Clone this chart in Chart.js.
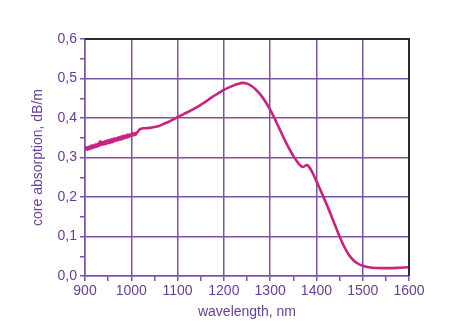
<!DOCTYPE html>
<html>
<head>
<meta charset="utf-8">
<script src="https://cdn.jsdelivr.net/npm/chart.js@4.4.1/dist/chart.umd.min.js"></script>
<style>
  html, body { margin: 0; padding: 0; background: #fff; }
  canvas { display: block; }
</style>
</head>
<body>
<canvas id="absorption-chart" width="476" height="331"></canvas>
<script>
// --- DATA ---
// measured spectrum; the short-wavelength end is noisy, so it is sampled finer
const wavelengths = [
  900, 902.5, 905, 907.5, 910, 912.5, 915, 917.5, 920, 922.5, 925, 927.5,
  930, 932.5, 935, 937.5, 940, 942.5, 945, 947.5, 950, 952.5, 955, 957.5,
  960, 962.5, 965, 967.5, 970, 972.5, 975, 977.5, 980, 982.5, 985, 987.5,
  990, 992.5, 995, 997.5, 1000, 1002.5, 1005, 1007.5, 1010, 1012.5, 1015, 1017.5,
  1020, 1025, 1030,
  1040, 1050, 1060, 1070, 1080, 1090, 1100, 1110, 1120, 1130, 1140, 1150,
  1160, 1170, 1180, 1190, 1200, 1210, 1220, 1230, 1240, 1250, 1260, 1270,
  1280, 1290, 1300, 1310, 1320, 1330, 1340, 1350, 1360, 1370, 1380, 1390,
  1400, 1410, 1420, 1430, 1440, 1450, 1460, 1470, 1480, 1490, 1500, 1510,
  1520, 1540, 1560, 1580, 1600
];
const absorption = [
  0.318, 0.326, 0.320, 0.327, 0.321, 0.330, 0.323, 0.331, 0.325, 0.333, 0.327, 0.335,
  0.329, 0.341, 0.332, 0.339, 0.333, 0.341, 0.334, 0.343, 0.336, 0.345, 0.337, 0.346,
  0.339, 0.348, 0.341, 0.349, 0.343, 0.351, 0.345, 0.353, 0.346, 0.355, 0.348, 0.356,
  0.350, 0.358, 0.352, 0.359, 0.354, 0.361, 0.356, 0.362, 0.358, 0.364, 0.366, 0.371,
  0.372, 0.374, 0.374,
  0.375, 0.377, 0.380, 0.385, 0.390, 0.396, 0.402, 0.408, 0.414, 0.420, 0.426, 0.433,
  0.441, 0.449, 0.457, 0.464, 0.471, 0.477, 0.482, 0.486, 0.489, 0.487, 0.481, 0.471,
  0.458, 0.441, 0.421, 0.398, 0.373, 0.348, 0.325, 0.304, 0.287, 0.276, 0.281, 0.265,
  0.240, 0.214, 0.187, 0.159, 0.129, 0.100, 0.074, 0.054, 0.040, 0.031, 0.026, 0.023,
  0.021, 0.020, 0.020, 0.021, 0.022
];
const xTickLabels = ['900', '1000', '1100', '1200', '1300', '1400', '1500', '1600'];
const yTickLabels = ['0,0', '0,1', '0,2', '0,3', '0,4', '0,5', '0,6'];

// --- STYLE ---
const LINE_COLOR = '#c8237f';
const GRID_COLOR = '#7d52a3';
const TEXT_COLOR = '#6a3d98';
const FONT = { family: "'Liberation Sans', Arial, sans-serif", size: 14 };

// black frame on the top and right side of the plot
const framePlugin = {
  id: 'frame',
  afterDraw(chart) {
    const { ctx, chartArea: a } = chart;
    ctx.save();
    ctx.strokeStyle = '#2b2b2b';
    ctx.lineWidth = 2;
    ctx.beginPath();
    ctx.moveTo(a.left, a.top);
    ctx.lineTo(a.right, a.top);
    ctx.lineTo(a.right, a.bottom);
    ctx.stroke();
    ctx.restore();
  }
};

const isMajorX = v => Math.round(v) % 100 === 0;
const isMajorY = v => Math.round(v * 100) % 10 === 0;

new Chart(document.getElementById('absorption-chart'), {
  type: 'line',
  data: {
    datasets: [{
      data: wavelengths.map((w, i) => ({ x: w, y: absorption[i] })),
      borderColor: LINE_COLOR,
      borderWidth: 2.6,
      pointRadius: 0,
      fill: false,
      tension: 0.3
    }]
  },
  options: {
    responsive: false,
    animation: false,
    layout: { padding: { top: 39, right: 67, bottom: 0, left: 0 } },
    plugins: { legend: { display: false }, tooltip: { enabled: false } },
    scales: {
      x: {
        type: 'linear',
        min: 900,
        max: 1600,
        afterFit: s => { s.height = 55; },
        ticks: {
          stepSize: 50,
          autoSkip: false,
          maxRotation: 0,
          padding: 2,
          color: TEXT_COLOR,
          font: FONT,
          callback: v => isMajorX(v) ? xTickLabels[(Math.round(v) - 900) / 100] : ''
        },
        grid: {
          color: c => isMajorX(c.tick.value) ? GRID_COLOR : 'rgba(0,0,0,0)',
          tickColor: GRID_COLOR,
          lineWidth: 1.5,
          tickLength: 5
        },
        border: { color: GRID_COLOR, width: 1.5 },
        title: {
          display: true,
          text: 'wavelength, nm',
          color: TEXT_COLOR,
          font: FONT,
          padding: { top: 0, bottom: 10 }
        }
      },
      y: {
        min: 0,
        max: 0.6,
        afterFit: s => { s.width = 85; },
        ticks: {
          stepSize: 0.05,
          autoSkip: false,
          padding: 3,
          color: TEXT_COLOR,
          font: FONT,
          callback: v => isMajorY(v) ? yTickLabels[Math.round(v * 10)] : ''
        },
        grid: {
          color: c => isMajorY(c.tick.value) ? GRID_COLOR : 'rgba(0,0,0,0)',
          tickColor: GRID_COLOR,
          lineWidth: 1.5,
          tickLength: 5
        },
        border: { color: GRID_COLOR, width: 1.5 },
        title: {
          display: true,
          text: 'core absorption, dB/m',
          color: TEXT_COLOR,
          font: FONT,
          padding: { top: 30, bottom: 0 }
        }
      }
    }
  },
  plugins: [framePlugin]
});
</script>
</body>
</html>
